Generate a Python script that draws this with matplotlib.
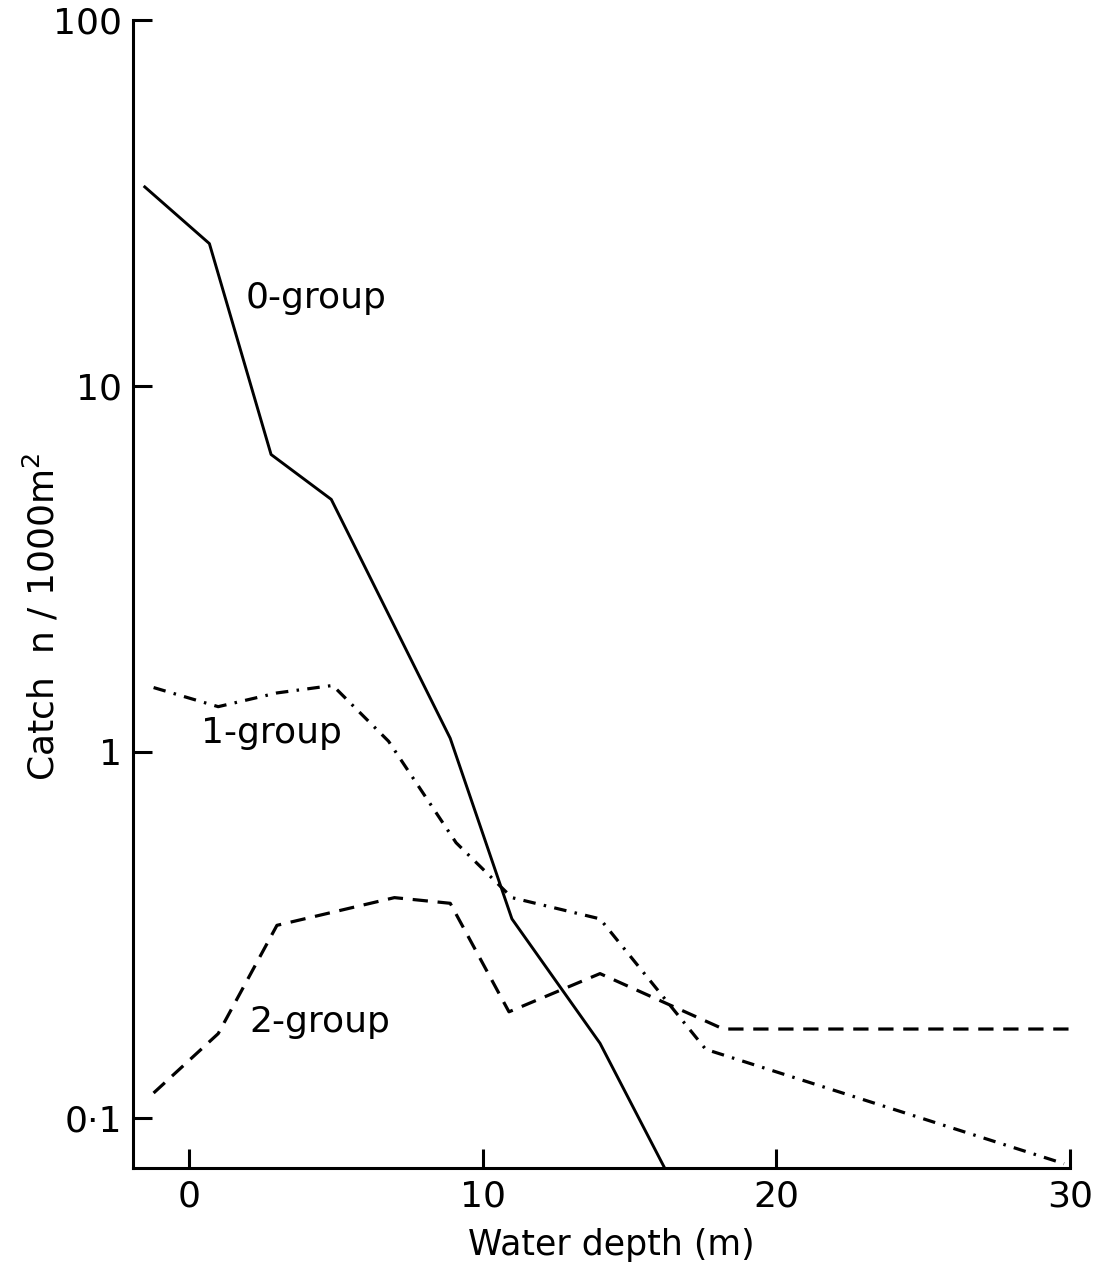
import matplotlib
matplotlib.use("Agg")
import matplotlib.pyplot as plt
from matplotlib.ticker import FixedLocator, FixedFormatter, NullLocator

plt.rcParams['font.family'] = ['DejaVu Sans']
plt.rcParams['lines.scale_dashes'] = False

# catch (n / 1000 m^2) by water depth (m) for each age group
depth_0 = [-1.5, 0.7, 2.8, 4.85, 8.9, 11.0, 14.0, 16.2]
catch_0 = [35, 24.5, 6.5, 4.9, 1.09, 0.35, 0.16, 0.073]

depth_1 = [-1.2, 1.0, 3.0, 4.9, 6.8, 9.1, 11.0, 14.0, 17.6, 29.8]
catch_1 = [1.5, 1.33, 1.45, 1.52, 1.07, 0.565, 0.40, 0.35, 0.154, 0.075]

depth_2 = [-1.2, 1.0, 3.0, 7.0, 8.9, 10.9, 14.0, 18.2, 30.0]
catch_2 = [0.117, 0.17, 0.336, 0.40, 0.386, 0.195, 0.248, 0.175, 0.175]

x_ticks = [0, 10, 20, 30]
y_ticks = [0.1, 1, 10, 100]
y_tick_labels = ['0·1', '1', '10', '100']

fig = plt.figure(figsize=(10.94, 12.69), dpi=100)
ax = fig.add_axes([0.1216, 0.0796, 0.8564, 0.9046])

ax.plot(depth_0, catch_0, color='black', lw=2.1, ls='-')
ax.plot(depth_1, catch_1, color='black', lw=2.3, ls=(0, (9, 6, 1.8, 6)))
ax.plot(depth_2, catch_2, color='black', lw=2.3, ls=(0, (11, 7)))

ax.text(1.95, 17.4, '0-group', fontsize=26, ha='left', va='center')
ax.text(0.4, 1.13, '1-group', fontsize=26, ha='left', va='center')
ax.text(2.05, 0.183, '2-group', fontsize=26, ha='left', va='center')

ax.set_yscale('log')
ax.set_xlim(-1.9, 30)
ax.set_ylim(0.073, 100)

ax.xaxis.set_major_locator(FixedLocator(x_ticks))
ax.yaxis.set_major_locator(FixedLocator(y_ticks))
ax.yaxis.set_major_formatter(FixedFormatter(y_tick_labels))
ax.yaxis.set_minor_locator(NullLocator())

for side in ('top', 'right'):
    ax.spines[side].set_visible(False)
for side in ('left', 'bottom'):
    ax.spines[side].set_linewidth(2.2)

ax.tick_params(direction='in', length=14, width=2.2, labelsize=26, pad=8)

ax.set_xlabel('Water depth (m)', fontsize=25)
ax.xaxis.set_label_coords(0.511, -0.052)
ax.set_ylabel('Catch  n / 1000m$^2$', fontsize=26)
ax.yaxis.set_label_coords(-0.076, 0.48)

fig.savefig('out.png', dpi=100, facecolor='white')
